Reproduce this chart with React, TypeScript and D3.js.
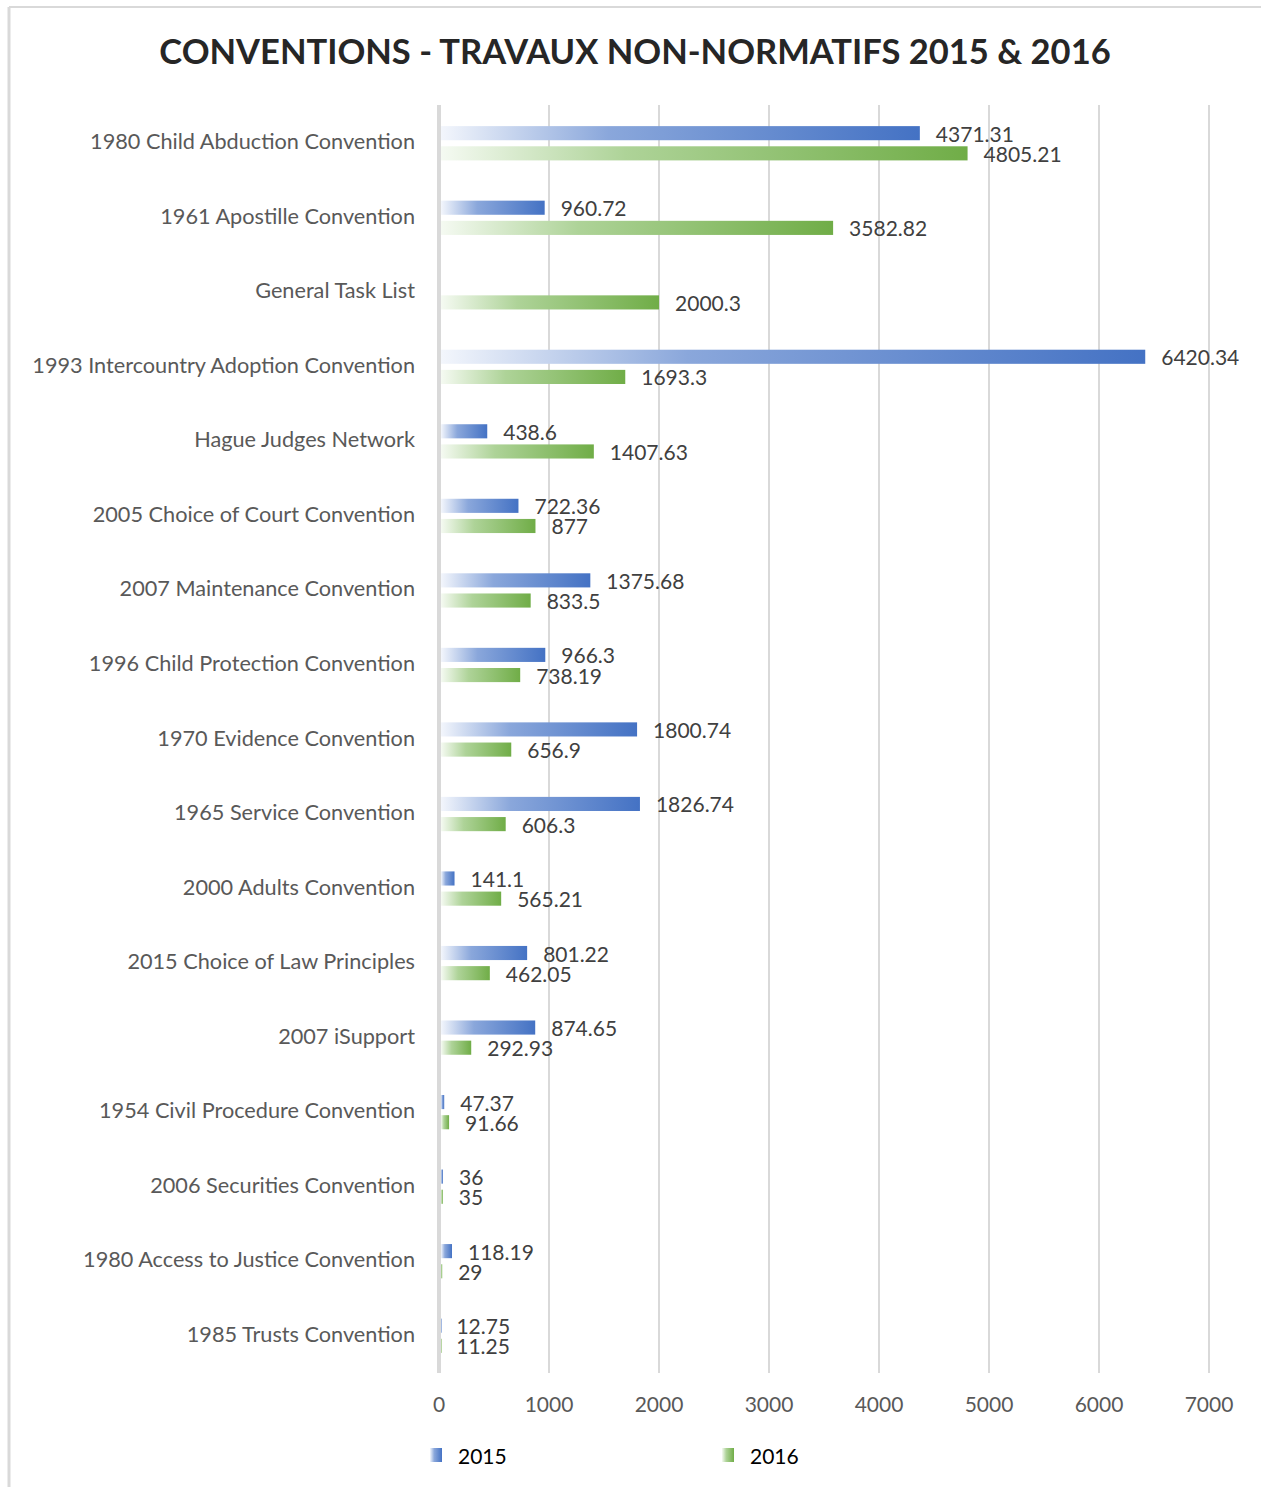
import React from 'react';
import * as d3 from 'd3';

const categories = [
  '1980 Child Abduction Convention',
  '1961 Apostille Convention',
  'General Task List',
  '1993 Intercountry Adoption Convention',
  'Hague Judges Network',
  '2005 Choice of Court Convention',
  '2007 Maintenance Convention',
  '1996 Child Protection Convention',
  '1970 Evidence Convention',
  '1965 Service Convention',
  '2000 Adults Convention',
  '2015 Choice of Law Principles',
  '2007 iSupport',
  '1954 Civil Procedure Convention',
  '2006 Securities Convention',
  '1980 Access to Justice Convention',
  '1985 Trusts Convention',
];

const values2015: (number | null)[] = [
  4371.31, 960.72, null, 6420.34, 438.6, 722.36, 1375.68, 966.3, 1800.74,
  1826.74, 141.1, 801.22, 874.65, 47.37, 36, 118.19, 12.75,
];

const values2016: (number | null)[] = [
  4805.21, 3582.82, 2000.3, 1693.3, 1407.63, 877, 833.5, 738.19, 656.9,
  606.3, 565.21, 462.05, 292.93, 91.66, 35, 29, 11.25,
];

const seriesNames = ['2015', '2016'];
const xTicks = [0, 1000, 2000, 3000, 4000, 5000, 6000, 7000];

const title = 'CONVENTIONS - TRAVAUX NON-NORMATIFS 2015 & 2016';

const series = [
  { name: seriesNames[0], values: values2015, grad: 'grad-blue' },
  { name: seriesNames[1], values: values2016, grad: 'grad-green' },
];

const width = 1261;
const height = 1487;
const font = 'Lato, "Open Sans", sans-serif';

export default function App() {
  const x = d3.scaleLinear().domain([0, 7000]).range([439, 1209]);
  const y = d3.scaleBand<string>().domain(categories).range([105, 1372]).paddingInner(0.54).paddingOuter(0.27);
  const ySub = d3.scaleBand<string>().domain(seriesNames).range([0, y.bandwidth()]).paddingInner(0.3);
  const gridTop = 105;
  const gridBottom = 1373;

  return (
    <svg
      width={width}
      height={height}
      style={{ position: 'absolute', left: 0, top: 0, background: '#fff' }}
      fontFamily={font}
    >
      <defs>
        <linearGradient id="grad-blue" x1="0" y1="0" x2="1" y2="0">
          <stop offset="0%" stopColor="#f3f6fc" />
          <stop offset="35%" stopColor="#8aa7db" />
          <stop offset="100%" stopColor="#4472c4" />
        </linearGradient>
        <linearGradient id="grad-green" x1="0" y1="0" x2="1" y2="0">
          <stop offset="0%" stopColor="#f5faf2" />
          <stop offset="35%" stopColor="#aed398" />
          <stop offset="100%" stopColor="#70ad47" />
        </linearGradient>
      </defs>

      {/* chart frame */}
      <line x1={9} y1={7} x2={width} y2={7} stroke="#d9d9d9" strokeWidth={2} />
      <line x1={9} y1={7} x2={9} y2={height} stroke="#d9d9d9" strokeWidth={3} />

      <text x={635} y={50} textAnchor="middle" dominantBaseline="central" fontSize={34.5} fontWeight="bold" fill="#262626">
        {title}
      </text>

      {/* gridlines */}
      {xTicks.map(t => (
        <g key={t}>
          <line
            x1={x(t)}
            x2={x(t)}
            y1={gridTop}
            y2={gridBottom}
            stroke="#d9d9d9"
            strokeWidth={t === 0 ? 4 : 2}
          />
          <text x={x(t)} y={1403} textAnchor="middle" dominantBaseline="central" fontSize={21} fill="#595959">
            {t}
          </text>
        </g>
      ))}

      {/* category labels */}
      {categories.map(c => (
        <text
          key={c}
          x={415}
          y={(y(c) ?? 0) + y.bandwidth() / 2 - 1}
          textAnchor="end"
          dominantBaseline="central"
          fontSize={21.7}
          fill="#595959"
        >
          {c}
        </text>
      ))}

      {/* bars */}
      {series.map(s => (
        <g key={s.name}>
          {categories.map((c, i) => {
            const v = s.values[i];
            if (v == null) return null;
            const by = (y(c) ?? 0) + (ySub(s.name) ?? 0) + 1;
            const bh = ySub.bandwidth();
            const x0 = x(0) + 2;
            return (
              <g key={c}>
                <rect x={x0} y={by} width={Math.max(0.5, x(v) - x0)} height={bh} fill={`url(#${s.grad})`} />
                <text
                  x={x(v) + 16}
                  y={by + bh / 2}
                  dominantBaseline="central"
                  fontSize={21}
                  fill="#404040"
                >
                  {v}
                </text>
              </g>
            );
          })}
        </g>
      ))}

      {/* legend */}
      {series.map((s, i) => {
        const lx = i === 0 ? 430 : 722;
        return (
          <g key={s.name}>
            <rect x={lx} y={1448} width={12} height={14} fill={`url(#${s.grad})`} />
            <text x={lx + 28} y={1455} dominantBaseline="central" fontSize={21} fill="#000">
              {s.name}
            </text>
          </g>
        );
      })}
    </svg>
  );
}
